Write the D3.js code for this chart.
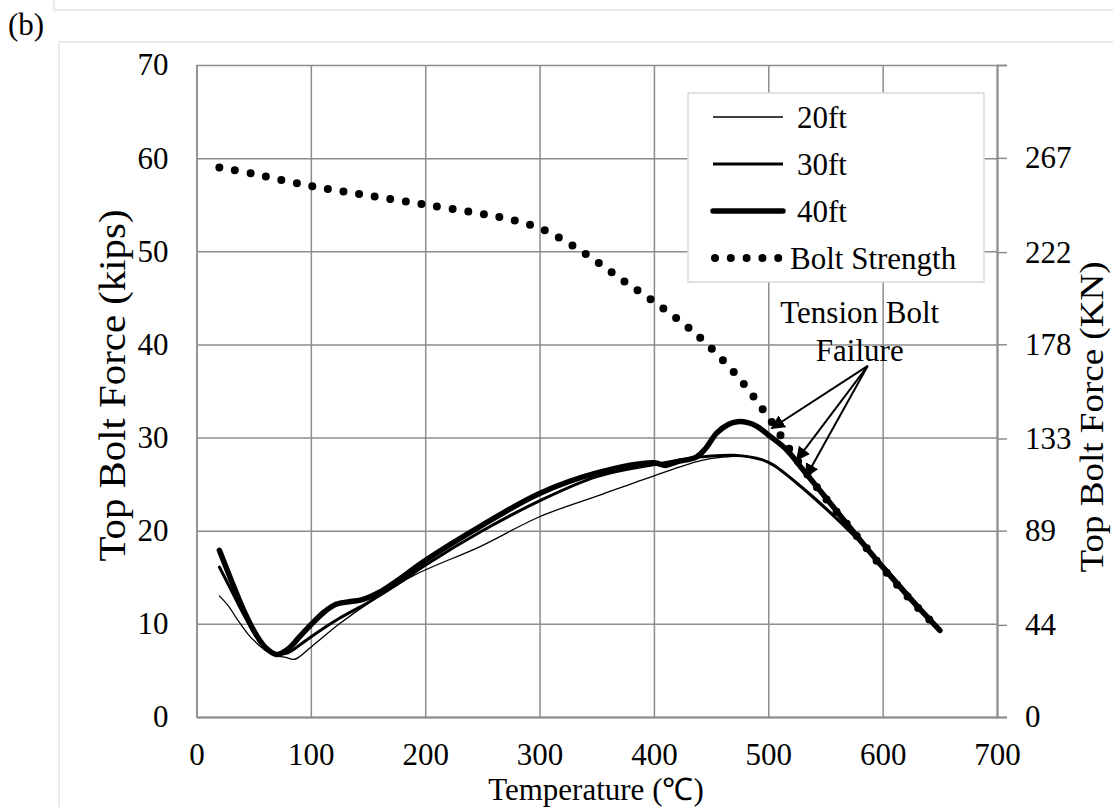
<!DOCTYPE html>
<html>
<head>
<meta charset="utf-8">
<script src="https://cdn.jsdelivr.net/npm/d3@7"></script>
<style>
  body { margin: 0; background: #fff; }
  svg text { font-family: "Liberation Serif", "Times New Roman", serif; fill: #000; }
</style>
</head>
<body>
<div id="chart"></div>
<script>
// ---- data (temperature in C, force in kips) ----
const temp20  = [20, 28, 35, 45, 53, 62, 70, 78, 86, 100, 125, 155, 190, 248, 300, 352, 400, 440, 460, 480, 495, 505, 528, 557, 572, 600, 625, 650]
const force20 = [13.0, 11.9, 10.6, 8.9, 7.9, 7.0, 6.6, 6.4, 6.2, 7.5, 10.0, 12.6, 15.2, 18.3, 21.5, 23.8, 25.9, 27.5, 27.9, 28.0, 27.6, 27.1, 24.7, 21.5, 19.7, 16.2, 12.8, 9.4]

const temp30  = [20, 30, 40, 50, 60, 70, 80, 90, 100, 125, 150, 175, 200, 250, 300, 350, 400, 440, 470, 495, 505, 530, 560, 580, 600, 625, 650]
const force30 = [16.1, 13.7, 11.3, 9.2, 7.6, 6.8, 6.9, 7.7, 8.6, 10.6, 12.3, 14.2, 16.3, 20.0, 23.2, 25.8, 27.1, 27.9, 28.1, 27.6, 27.0, 24.6, 21.3, 18.9, 16.3, 12.8, 9.2]

const temp40  = [20, 30, 40, 50, 60, 70, 80, 90, 100, 112, 122, 135, 145, 160, 175, 200, 250, 300, 350, 400, 410, 420, 437, 445, 455, 465, 473, 482, 490, 502, 516, 530, 550, 575, 600, 625, 650]
const force40 = [17.9, 14.8, 11.8, 9.3, 7.5, 6.7, 7.3, 8.6, 9.9, 11.3, 12.1, 12.4, 12.6, 13.4, 14.6, 16.8, 20.6, 24.0, 26.2, 27.3, 27.0, 27.4, 27.9, 28.8, 30.5, 31.4, 31.7, 31.6, 31.2, 30.1, 28.7, 26.6, 23.6, 19.8, 16.1, 12.6, 9.3]

const tempBolt  = [20, 50, 100, 150, 200, 250, 275, 300, 325, 350, 375, 400, 425, 445, 475, 500, 525, 550, 575, 600, 625, 650]
const forceBolt = [59.0, 58.3, 57.0, 56.0, 55.0, 54.0, 53.4, 52.5, 50.9, 48.9, 46.7, 44.6, 42.3, 40.2, 36.3, 32.2, 27.6, 23.5, 19.8, 16.0, 12.5, 9.3]

const xTicks = [0, 100, 200, 300, 400, 500, 600, 700]
const yTicks = [0, 10, 20, 30, 40, 50, 60, 70]
const rightTicks = [0, 44, 89, 133, 178, 222, 267]   // kN labels
const kipToKN = 4.448

const seriesNames = ["20ft", "30ft", "40ft", "Bolt Strength"]

// failure annotation: label point and arrow targets (temp, kips)
const failureLabel = [587, 37.7]
const failureTemps = [503, 525, 533]
const failureForce = [31.0, 27.6, 25.8]

// ---- layout ----
const W = 1113, H = 807
const margin = {top: 65, right: 116, bottom: 90, left: 196.5}
const width = W - margin.left - margin.right
const height = H - margin.top - margin.bottom

const svg = d3.select("#chart").append("svg")
    .attr("width", W)
    .attr("height", H)

// panel frames (top one belongs to the figure above)
svg.append("rect")
    .attr("x", 54).attr("y", -40).attr("width", 1100).attr("height", 50)
    .attr("fill", "none").attr("stroke", "#e4e4e4").attr("stroke-width", 1.5)
svg.append("rect")
    .attr("x", 59).attr("y", 42).attr("width", 1100).attr("height", 800)
    .attr("fill", "none").attr("stroke", "#e4e4e4").attr("stroke-width", 1.5)

svg.append("text")
    .attr("x", 8).attr("y", 35)
    .style("font-size", "31px")
    .text("(b)")

const g = svg.append("g")
    .attr("transform", `translate(${margin.left},${margin.top})`)

// scales
const x = d3.scaleLinear().domain([0, 700]).range([0, width])
const y = d3.scaleLinear().domain([0, 70]).range([height, 0])
const yR = d3.scaleLinear().domain([0, 70 * kipToKN]).range([height, 0])

// gridlines
const gridColor = "#8c8c8c"
g.append("g")
    .attr("class", "x-grid")
    .attr("transform", `translate(0,${height})`)
    .call(d3.axisBottom(x).tickValues(xTicks).tickSize(-height).tickFormat(""))
    .call(s => s.select(".domain").remove())
    .call(s => s.selectAll("line").attr("stroke", gridColor).attr("stroke-width", 1.5))

g.append("g")
    .attr("class", "y-grid")
    .call(d3.axisLeft(y).tickValues(yTicks).tickSize(-width).tickFormat(""))
    .call(s => s.select(".domain").remove())
    .call(s => s.selectAll("line").attr("stroke", gridColor).attr("stroke-width", 1.5))

// axes
g.append("g")
    .attr("class", "x-axis")
    .attr("transform", `translate(0,${height})`)
    .call(d3.axisBottom(x).tickValues(xTicks).tickSize(0).tickPadding(26))
    .call(s => s.select(".domain").attr("stroke", gridColor).attr("stroke-width", 2))
    .call(s => s.selectAll("text").style("font-size", "31px").style("font-family", "Liberation Serif"))

g.append("g")
    .attr("class", "y-axis")
    .call(d3.axisLeft(y).tickValues(yTicks).tickSize(0).tickPadding(28))
    .call(s => s.select(".domain").attr("stroke", gridColor).attr("stroke-width", 1.5))
    .call(s => s.selectAll("text").style("font-size", "31px").style("font-family", "Liberation Serif"))

g.append("g")
    .attr("class", "y-axis-right")
    .attr("transform", `translate(${width},0)`)
    .call(d3.axisRight(yR).tickValues(rightTicks).tickSize(10).tickPadding(18))
    .call(s => s.select(".domain").attr("stroke", gridColor).attr("stroke-width", 2))
    .call(s => s.selectAll("line").attr("stroke", gridColor).attr("stroke-width", 1.5))
    .call(s => s.selectAll("text").style("font-size", "31px").style("font-family", "Liberation Serif"))

// axis titles
svg.append("text")
    .attr("x", 596).attr("y", 800)
    .attr("text-anchor", "middle")
    .style("font-size", "31px")
    .text("Temperature (℃)")

svg.append("text")
    .attr("transform", "translate(125,385.5) rotate(-90)")
    .attr("text-anchor", "middle")
    .attr("textLength", 352)
    .attr("lengthAdjust", "spacingAndGlyphs")
    .style("font-size", "37px")
    .text("Top Bolt Force (kips)")

svg.append("text")
    .attr("transform", "translate(1103,417) rotate(-90)")
    .attr("text-anchor", "middle")
    .attr("textLength", 311)
    .attr("lengthAdjust", "spacingAndGlyphs")
    .style("font-size", "33px")
    .text("Top Bolt Force (KN)")

// lines
const line = d3.line()
    .curve(d3.curveCatmullRom.alpha(0.5))
    .x(d => x(d[0]))
    .y(d => y(d[1]))

const series = [
    {name: seriesNames[0], data: d3.zip(temp20, force20), w: 1.3, dash: null},
    {name: seriesNames[1], data: d3.zip(temp30, force30), w: 3, dash: null},
    {name: seriesNames[2], data: d3.zip(temp40, force40), w: 5.5, dash: null},
    {name: seriesNames[3], data: d3.zip(tempBolt, forceBolt), w: 8, dash: "0 15.8"}
]

g.selectAll(".series")
    .data(series)
    .join("path")
        .attr("class", "series")
        .attr("d", d => line(d.data))
        .attr("fill", "none")
        .attr("stroke", "#000")
        .attr("stroke-width", d => d.w)
        .attr("stroke-linecap", "round")
        .attr("stroke-linejoin", "round")
        .attr("stroke-dasharray", d => d.dash)

// failure annotation
svg.append("defs").append("marker")
    .attr("id", "arrow")
    .attr("viewBox", "0 0 10 10")
    .attr("refX", 9).attr("refY", 5)
    .attr("markerWidth", 7).attr("markerHeight", 7)
    .attr("orient", "auto")
  .append("path")
    .attr("d", "M0,0 L10,5 L0,10 Z")
    .attr("fill", "#000")

g.selectAll(".fail-arrow")
    .data(d3.zip(failureTemps, failureForce))
    .join("line")
        .attr("class", "fail-arrow")
        .attr("x1", x(failureLabel[0])).attr("y1", y(failureLabel[1]))
        .attr("x2", d => x(d[0])).attr("y2", d => y(d[1]))
        .attr("stroke", "#000")
        .attr("stroke-width", 2)
        .attr("marker-end", "url(#arrow)")

const ann = g.append("text")
    .attr("text-anchor", "middle")
    .style("font-size", "31px")
ann.append("tspan").attr("x", x(failureLabel[0]) - 8).attr("y", y(failureLabel[1]) - 43).text("Tension Bolt")
ann.append("tspan").attr("x", x(failureLabel[0]) - 8).attr("y", y(failureLabel[1]) - 5).text("Failure")

// legend
const legend = svg.append("g").attr("class", "legend")
legend.append("rect")
    .attr("x", 688).attr("y", 93).attr("width", 296).attr("height", 189)
    .attr("fill", "#fff").attr("stroke", "#d9d9d9").attr("stroke-width", 1.5)

const items = legend.selectAll(".item")
    .data(series)
    .join("g")
        .attr("class", "item")
        .attr("transform", (d, i) => `translate(0,${117 + i * 47})`)

items.append("line")
    .attr("x1", d => d.dash ? 715 : 713)
    .attr("x2", d => d.dash ? 780 : 783)
    .attr("stroke", "#000")
    .attr("stroke-width", d => d.w)
    .attr("stroke-linecap", d => d.dash || d.w > 3 ? "round" : "butt")
    .attr("stroke-dasharray", d => d.dash)

items.append("text")
    .attr("x", d => d.dash ? 790 : 797)
    .attr("dy", "0.35em")
    .style("font-size", "31px")
    .text(d => d.name)
</script>
</body>
</html>
